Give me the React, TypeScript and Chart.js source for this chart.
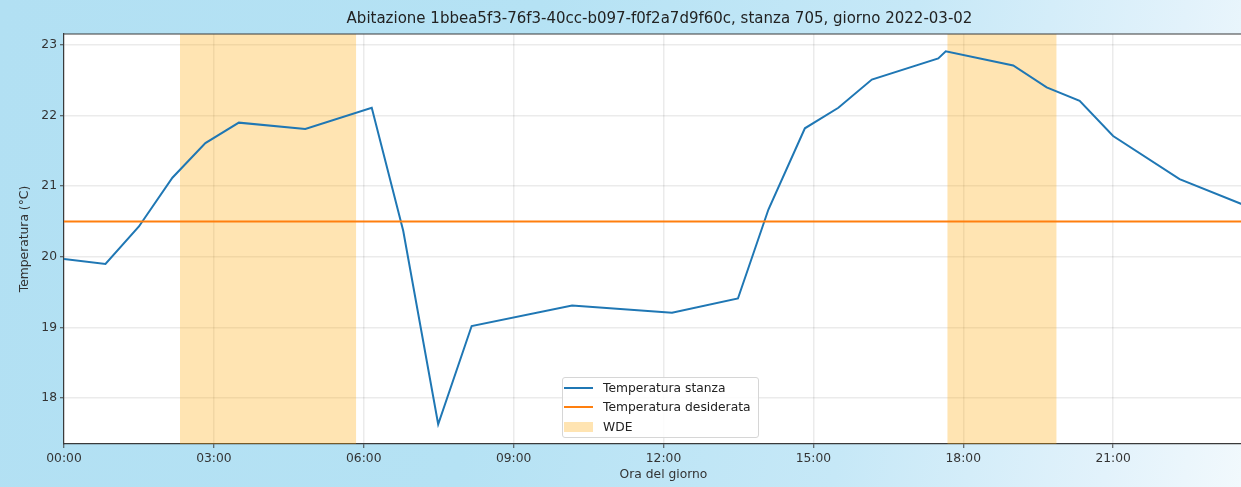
import React, { useEffect, useRef } from "react";
import { Chart, registerables } from "chart.js";

Chart.register(...registerables);

// ---- data ----
const hours = [0, 0.83, 1.5, 2.17, 2.83, 3.5, 4.83, 6.16, 6.79, 7.49, 8.16, 10.17, 12.17, 13.49, 14.1, 14.83, 15.5, 16.17, 17.5, 17.65, 19.0, 19.67, 20.33, 21.0, 22.33, 23.67];
const roomTemps = [19.97, 19.9, 20.43, 21.12, 21.61, 21.9, 21.81, 22.11, 20.37, 17.63, 19.02, 19.31, 19.21, 19.41, 20.67, 21.82, 22.11, 22.51, 22.81, 22.91, 22.71, 22.4, 22.21, 21.71, 21.1, 20.72];
const targetTemp = 20.5;
const wdeStarts = [2.32, 17.68];
const wdeEnds = [5.85, 19.87];
const xTickValues = [0, 3, 6, 9, 12, 15, 18, 21];
const yTickValues = [18, 19, 20, 21, 22, 23];
const X_MIN = 0;
const X_MAX = 24;
const Y_MIN = 17.35;
const Y_MAX = 23.155;
const TITLE = "Abitazione 1bbea5f3-76f3-40cc-b097-f0f2a7d9f60c, stanza 705, giorno 2022-03-02";
const X_TITLE = "Ora del giorno";
const Y_TITLE = "Temperatura (°C)";
const LEGEND_LABELS = ["Temperatura stanza", "Temperatura desiderata", "WDE"];

const BLUE = "#1f77b4";
const ORANGE = "#ff7f0e";
const WDE_FILL = "rgba(255,165,0,0.3)";
const FONT = "DejaVu Sans";
const TICK_SIZE = 12.3;

const fmtHour = (v: number) => String(Math.round(v)).padStart(2, "0") + ":00";

const framePlugin = {
  id: "frame",
  beforeDraw(chart: any) {
    const { ctx, chartArea } = chart;
    ctx.save();
    ctx.fillStyle = "#ffffff";
    ctx.fillRect(chartArea.left, chartArea.top, chartArea.right - chartArea.left, chartArea.bottom - chartArea.top);
    ctx.restore();
  },
  afterDraw(chart: any) {
    const { ctx, chartArea } = chart;
    const { left, right, top } = chartArea;
    ctx.save();
    ctx.strokeStyle = "#3a3a3a";
    ctx.lineWidth = 1.2;
    ctx.beginPath();
    ctx.moveTo(left, top);
    ctx.lineTo(right, top);
    ctx.stroke();
    ctx.fillStyle = "#222";
    ctx.font = `15px "${FONT}"`;
    ctx.textAlign = "center";
    ctx.textBaseline = "middle";
    ctx.fillText(TITLE, (left + right) / 2 - 4, 19);
    ctx.restore();
  },
};

export default function App() {
  const ref = useRef<HTMLCanvasElement | null>(null);

  useEffect(() => {
    document.documentElement.style.overflow = "hidden";
    document.body.style.margin = "0";
    document.body.style.overflow = "hidden";
    if (!ref.current) return;

    const wdeDatasets = wdeStarts.map((s, i) => ({
      type: "line" as const,
      label: "WDE" + i,
      data: [
        { x: s, y: Y_MAX },
        { x: wdeEnds[i], y: Y_MAX },
      ],
      borderWidth: 0,
      borderColor: "rgba(0,0,0,0)",
      backgroundColor: WDE_FILL,
      pointRadius: 0,
      fill: "start",
      order: 5,
    }));

    const chart = new Chart(ref.current, {
      type: "line",
      data: {
        datasets: [
          {
            label: LEGEND_LABELS[0],
            data: hours.map((h, i) => ({ x: h, y: roomTemps[i] })),
            borderColor: BLUE,
            borderWidth: 2,
            pointRadius: 0,
            fill: false,
            tension: 0,
            order: 2,
          },
          {
            label: LEGEND_LABELS[1],
            data: [
              { x: X_MIN, y: targetTemp },
              { x: X_MAX, y: targetTemp },
            ],
            borderColor: ORANGE,
            borderWidth: 2,
            pointRadius: 0,
            fill: false,
            order: 1,
          },
          ...wdeDatasets,
        ] as any,
      },
      plugins: [framePlugin],
      options: {
        animation: false,
        responsive: false,
        maintainAspectRatio: false,
        layout: { padding: { top: 34, left: 0, right: 1, bottom: 0 } },
        plugins: {
          legend: { display: false },
          title: { display: false },
          tooltip: { enabled: false },
        },
        scales: {
          x: {
            type: "linear",
            min: X_MIN,
            max: X_MAX,
            afterBuildTicks: (s: any) => {
              s.ticks = xTickValues.map((v) => ({ value: v }));
            },
            afterFit: (s: any) => {
              s.height = 43;
            },
            ticks: {
              callback: (v: any) => fmtHour(Number(v)),
              font: { family: FONT, size: TICK_SIZE },
              color: "#333",
              padding: 3,
              maxRotation: 0,
              autoSkip: false,
            },
            grid: {
              color: "rgba(0,0,0,0.08)",
              lineWidth: 1.5,
              tickLength: 4,
              tickColor: "#444",
              tickWidth: 1,
            },
            border: { color: "#3a3a3a", width: 1.2 },
            title: {
              display: true,
              text: X_TITLE,
              font: { family: FONT, size: TICK_SIZE },
              color: "#333",
              padding: { top: 0, bottom: 5 },
            },
          },
          y: {
            type: "linear",
            min: Y_MIN,
            max: Y_MAX,
            afterBuildTicks: (s: any) => {
              s.ticks = yTickValues.map((v) => ({ value: v }));
            },
            afterFit: (s: any) => {
              s.width = 64;
            },
            ticks: {
              callback: (v: any) => String(v),
              font: { family: FONT, size: TICK_SIZE },
              color: "#333",
              padding: 3,
            },
            grid: {
              color: "rgba(0,0,0,0.08)",
              lineWidth: 1.5,
              tickLength: 4,
              tickColor: "#444",
              tickWidth: 1,
            },
            border: { color: "#3a3a3a", width: 1.2 },
            title: {
              display: true,
              text: Y_TITLE,
              font: { family: FONT, size: TICK_SIZE },
              color: "#333",
              padding: { top: 17, bottom: 0 },
            },
          },
        },
      } as any,
    });
    return () => chart.destroy();
  }, []);

  const rowCenters = [386.5, 406, 425.5];
  const legLeft = 562;
  const legTop = 377;

  return (
    <div
      style={{
        position: "relative",
        width: 1264,
        height: 487,
        background:
          "linear-gradient(100deg, #b2e0f3 0%, #b5e2f4 40%, #c6e8f7 68%, #e2f2fb 88%, #f4fafd 100%)",
        overflow: "hidden",
      }}
    >
      <canvas ref={ref} width={1264} height={487} style={{ width: 1264, height: 487, display: "block" }} />
      <div
        style={{
          position: "absolute",
          left: legLeft,
          top: legTop,
          width: 197,
          height: 61,
          background: "rgba(255,255,255,0.85)",
          border: "1px solid #d6d6d6",
          borderRadius: 3,
          boxSizing: "border-box",
          fontFamily: FONT,
          fontSize: 12.3,
          color: "#222",
        }}
      >
        {LEGEND_LABELS.map((label, i) => {
          const cy = rowCenters[i] - legTop;
          return (
            <React.Fragment key={label}>
              {i < 2 ? (
                <div
                  style={{
                    position: "absolute",
                    left: 1,
                    top: cy - 1,
                    width: 29,
                    height: 2,
                    background: i === 0 ? BLUE : ORANGE,
                  }}
                />
              ) : (
                <div
                  style={{
                    position: "absolute",
                    left: 1,
                    top: cy - 5,
                    width: 29,
                    height: 10,
                    background: WDE_FILL,
                  }}
                />
              )}
              <div
                style={{
                  position: "absolute",
                  left: 40,
                  top: cy - 8,
                  height: 16,
                  lineHeight: "16px",
                  whiteSpace: "nowrap",
                }}
              >
                {label}
              </div>
            </React.Fragment>
          );
        })}
      </div>
    </div>
  );
}
